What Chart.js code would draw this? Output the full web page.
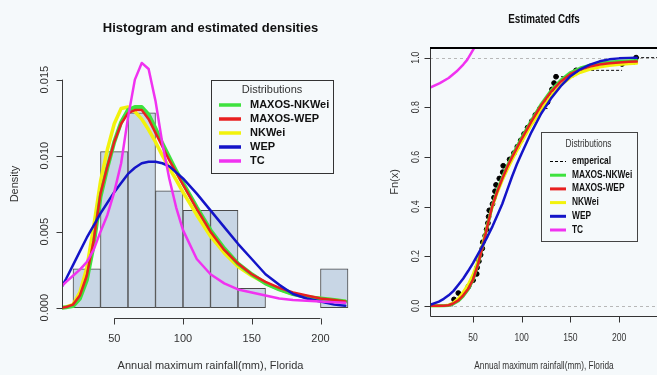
<!DOCTYPE html>
<html><head><meta charset="utf-8">
<script src="https://cdn.jsdelivr.net/npm/chart.js@4/dist/chart.umd.min.js"></script>
<style>
html,body{margin:0;padding:0;background:#f5f9fb;overflow:hidden;width:657px;height:375px;position:relative;}
#c1{position:absolute;left:0;top:0;}
#c2{position:absolute;left:380px;top:0;}
</style></head><body>
<canvas id="c1" width="380" height="375"></canvas>
<canvas id="c2" width="300" height="375"></canvas>
<script>
// ---------- data ----------
const seriesNames = ['MAXOS-NKWei','MAXOS-WEP','NKWei','WEP','TC'];
const seriesColors = ['#3ee23e','#e82020','#f2f20c','#1414c8','#f032f0'];

// histogram (Annual maximum rainfall, density scale)
const binCenters = [30,50,70,90,110,130,150,170,190,210];
const binDensity = [0.00256,0.01026,0.01282,0.00769,0.00641,0.00641,0.00128,0,0,0.00256];

// estimated densities
const densX =            [12,15,20,25,30,35,40,45,50,55,60,65,70,75,80,85,90,95,100,110,120,130,140,150,160,170,180,190,200,210,218];
const densMaxosNKWei =   [0,0.00003,0.0001,0.0006,0.0018,0.0041,0.0073,0.0092,0.0109,0.0122,0.0130,0.0132,0.0132,0.0127,0.0118,0.0108,0.0099,0.0090,0.0082,0.0066,0.0051,0.0039,0.0029,0.0022,0.0016,0.0012,0.0009,0.0007,0.0006,0.0005,0.0004];
const densMaxosWEP =     [0,0.00004,0.0002,0.0008,0.0021,0.0044,0.0075,0.0093,0.0109,0.0121,0.0128,0.0130,0.0130,0.0124,0.0115,0.0106,0.0097,0.0089,0.0081,0.0065,0.0050,0.0038,0.0029,0.0022,0.0017,0.0013,0.0010,0.0008,0.0006,0.0005,0.0004];
const densNKWei =        [0,0.00005,0.0002,0.0010,0.0026,0.0053,0.0083,0.0104,0.0121,0.0131,0.0132,0.0129,0.0124,0.0117,0.0109,0.0100,0.0092,0.0084,0.0076,0.0061,0.0047,0.0036,0.0027,0.0021,0.0016,0.0012,0.0009,0.0007,0.0006,0.0005,0.0004];
const densWEP =          [0.0014,0.0019,0.0028,0.0037,0.0046,0.0054,0.0062,0.0069,0.0076,0.0082,0.0088,0.0092,0.0095,0.0096,0.0096,0.0095,0.0093,0.0089,0.0085,0.0075,0.0064,0.0053,0.0042,0.0032,0.0022,0.0015,0.0009,0.0006,0.0004,0.0002,0.00012];
const densTC =           [0.00143,0.0017,0.0021,0.0025,0.0030,0.0038,0.0050,0.0061,0.0076,0.0095,0.0125,0.0150,0.0161,0.0157,0.0136,0.0108,0.0085,0.0066,0.0051,0.0032,0.0022,0.0016,0.0012,0.0010,0.0008,0.0006,0.0005,0.00045,0.0004,0.00036,0.00033];

// estimated cdfs
const cdfX =            [6,15,20,25,30,35,40,45,50,55,60,65,70,75,80,85,90,95,100,110,120,130,140,150,160,170,180,190,200,210,218];
const cdfMaxosNKWei =   [0,0,0.0003,0.0015,0.008,0.019,0.039,0.065,0.104,0.165,0.240,0.326,0.407,0.466,0.517,0.563,0.603,0.641,0.678,0.748,0.813,0.867,0.909,0.940,0.958,0.969,0.977,0.982,0.985,0.987,0.988];
const cdfMaxosWEP =     [0,0,0.0005,0.002,0.010,0.022,0.042,0.068,0.105,0.165,0.240,0.325,0.405,0.462,0.512,0.558,0.598,0.636,0.673,0.743,0.808,0.862,0.903,0.934,0.952,0.964,0.972,0.977,0.980,0.983,0.984];
const cdfNKWei =        [0,0,0.0006,0.003,0.013,0.030,0.055,0.085,0.125,0.180,0.250,0.328,0.402,0.457,0.505,0.548,0.587,0.625,0.661,0.730,0.790,0.845,0.888,0.920,0.940,0.953,0.962,0.968,0.972,0.975,0.977];
const cdfWEP =          [0.004,0.017,0.028,0.042,0.060,0.085,0.110,0.140,0.172,0.207,0.243,0.280,0.320,0.365,0.410,0.465,0.520,0.570,0.615,0.700,0.775,0.835,0.885,0.925,0.953,0.972,0.985,0.993,0.997,0.999,1.000];
const cdfTCx =          [6,16,25,33,40,44,52,60];
const cdfTC =           [0.879,0.897,0.918,0.944,0.972,0.991,1.044,1.10];

// empirical sample (sorted)
const empirical = [30.5,34.9,45.2,50.0,53.8,54.2,56.0,57.8,59.5,60.0,62.5,64.0,65.3,66.0,66.7,70.0,71.5,72.6,73.6,77.0,80.5,81.0,87.5,92.0,95.5,99.0,102.4,106.0,110.3,114.0,118.8,126.5,129.0,131.0,133.2,135.2,155.8,203.0,217.4];

// ticks
const leftXTicks = [50,100,150,200];
const leftXTickLabels = ['50','100','150','200'];
const leftYTicks = [0,0.005,0.010,0.015];
const leftYTickLabels = ['0.000','0.005','0.010','0.015'];
const rightXTicks = [50,100,150,200];
const rightXTickLabels = ['50','100','150','200'];
const rightYTicks = [0,0.2,0.4,0.6,0.8,1.0];
const rightYTickLabels = ['0.0','0.2','0.4','0.6','0.8','1.0'];

// ---------- helpers ----------
const BG = '#f5f9fb';
const INK = '#262626';
function txt(ctx, s, x, y, o){
  ctx.save();
  ctx.translate(x,y);
  if(o.rot) ctx.rotate(o.rot);
  if(o.sx) ctx.scale(o.sx,1);
  ctx.font = o.font; ctx.fillStyle = o.color||INK;
  ctx.textAlign = o.align||'center'; ctx.textBaseline = 'middle';
  ctx.fillText(s,0,0);
  ctx.restore();
}
function pts(xs, ys){ return xs.map((x,i)=>({x:x, y:ys[i]})); }
function lineDs(label, xs, ys, color, order, w){
  return {type:'line', label, data:pts(xs,ys), borderColor:color, backgroundColor:color,
    borderWidth:w, pointRadius:0, tension:0, fill:false, order:order, borderJoinStyle:'round', borderCapStyle:'round'};
}
const SANS = '"Liberation Sans", Arial, Helvetica, sans-serif';

// ---------- left chart ----------
const leftDeco = {id:'leftDeco', afterDraw(chart){
  const ctx=chart.ctx, xs=chart.scales.x, ys=chart.scales.y, a=chart.chartArea;
  ctx.save();
  ctx.strokeStyle='#3a3a3a'; ctx.lineWidth=1;
  const x0 = Math.round(a.left)+0.5;
  ctx.beginPath();
  ctx.moveTo(x0, ys.getPixelForValue(leftYTicks[0])); ctx.lineTo(x0, ys.getPixelForValue(leftYTicks[leftYTicks.length-1]));
  leftYTicks.forEach(v=>{const p=Math.round(ys.getPixelForValue(v))+0.5; ctx.moveTo(x0,p); ctx.lineTo(x0-6,p);});
  const y0 = Math.round(a.bottom)+0.5;
  ctx.moveTo(xs.getPixelForValue(leftXTicks[0]), y0); ctx.lineTo(xs.getPixelForValue(leftXTicks[leftXTicks.length-1]), y0);
  leftXTicks.forEach(v=>{const p=Math.round(xs.getPixelForValue(v))+0.5; ctx.moveTo(p,y0); ctx.lineTo(p,y0+6);});
  ctx.stroke();
  leftYTicks.forEach((v,i)=>txt(ctx, leftYTickLabels[i], x0-18, ys.getPixelForValue(v), {font:'11px '+SANS, rot:-Math.PI/2, color:'#333'}));
  leftXTicks.forEach((v,i)=>txt(ctx, leftXTickLabels[i], xs.getPixelForValue(v), y0+20, {font:'11px '+SANS, color:'#333'}));
  const cx=(a.left+a.right)/2;
  txt(ctx, 'Histogram and estimated densities', cx, 28, {font:'bold 13px '+SANS, color:'#111'});
  txt(ctx, 'Annual maximum rainfall(mm), Florida', cx, 366, {font:'11px '+SANS, color:'#333'});
  txt(ctx, 'Density', 15, (a.top+a.bottom)/2, {font:'11px '+SANS, rot:-Math.PI/2, color:'#333'});
  // legend
  const L=211, T=80, W=122, H=93;
  ctx.fillStyle=BG; ctx.fillRect(L,T,W,H);
  ctx.strokeStyle='#333'; ctx.lineWidth=1; ctx.strokeRect(L+0.5,T+0.5,W,H);
  txt(ctx,'Distributions', L+61, T+9.5, {font:'11px '+SANS, color:'#333'});
  seriesNames.forEach((n,i)=>{
    const yy = T+25+i*14;
    ctx.strokeStyle=seriesColors[i]; ctx.lineWidth=3.5; ctx.lineCap='butt';
    ctx.beginPath(); ctx.moveTo(L+8,yy); ctx.lineTo(L+30,yy); ctx.stroke();
    txt(ctx, n, L+39, yy, {font:'bold 11px '+SANS, align:'left', color:'#111'});
  });
  ctx.restore();
}};

new Chart(document.getElementById('c1'), {
  type:'bar',
  data:{datasets:[
    {type:'bar', label:'hist', data:pts(binCenters, binDensity), backgroundColor:'#c8d6e5', borderColor:'#4a4a4a', borderWidth:1, borderSkipped:false, barPercentage:1, categoryPercentage:1, order:10},
    lineDs(seriesNames[2], densX, densNKWei, seriesColors[2], 4, 3.5),
    lineDs(seriesNames[0], densX, densMaxosNKWei, seriesColors[0], 3, 4),
    lineDs(seriesNames[1], densX, densMaxosWEP, seriesColors[1], 2, 2.5),
    lineDs(seriesNames[3], densX, densWEP, seriesColors[3], 1, 2.5),
    lineDs(seriesNames[4], densX, densTC, seriesColors[4], 0, 2.5)
  ]},
  options:{
    responsive:false, animation:false, devicePixelRatio:1,
    layout:{padding:{left:62, right:21, top:50, bottom:57}},
    plugins:{legend:{display:false}, tooltip:{enabled:false}},
    scales:{
      x:{type:'linear', min:12, max:228, offset:false, display:false},
      y:{type:'linear', min:-0.00068, max:0.01695, display:false}
    }
  },
  plugins:[leftDeco]
});

// ---------- right chart ----------
const n = empirical.length;
const stepData = [];
stepData.push({x:6, y:0}); stepData.push({x:empirical[0], y:0}); stepData.push({x:empirical[0], y:null});
empirical.forEach((x,i)=>{
  const nx = i<n-1 ? empirical[i+1] : 252;
  stepData.push({x:x, y:(i+1)/n}); stepData.push({x:nx, y:(i+1)/n}); stepData.push({x:nx, y:null});
});
const empPoints = empirical.map((x,i)=>({x:x, y:(i+1)/n}));

const rightDeco = {id:'rightDeco',
  beforeDatasetsDraw(chart){
    const ctx=chart.ctx, ys=chart.scales.y, a=chart.chartArea;
    ctx.save();
    ctx.strokeStyle='#b8b8b8'; ctx.lineWidth=1; ctx.setLineDash([3,3]);
    [0,1].forEach(v=>{const p=Math.round(ys.getPixelForValue(v))+0.5; ctx.beginPath(); ctx.moveTo(a.left,p); ctx.lineTo(a.right,p); ctx.stroke();});
    ctx.restore();
  },
  afterDraw(chart){
    const ctx=chart.ctx, xs=chart.scales.x, ys=chart.scales.y, a=chart.chartArea;
    ctx.save();
    ctx.strokeStyle='#333'; ctx.lineWidth=1;
    const l=Math.round(a.left)+0.5, b=Math.round(a.bottom)+0.5, t=Math.round(a.top);
    ctx.beginPath(); ctx.moveTo(l,t); ctx.lineTo(l,b); ctx.lineTo(a.right,b);
    rightYTicks.forEach(v=>{const p=Math.round(ys.getPixelForValue(v))+0.5; ctx.moveTo(l,p); ctx.lineTo(l-6,p);});
    rightXTicks.forEach(v=>{const p=Math.round(xs.getPixelForValue(v))+0.5; ctx.moveTo(p,b); ctx.lineTo(p,b+6);});
    ctx.stroke();
    ctx.strokeStyle='#000'; ctx.lineWidth=2;
    ctx.beginPath(); ctx.moveTo(l-0.5,t); ctx.lineTo(a.right,t); ctx.stroke();
    rightYTicks.forEach((v,i)=>txt(ctx, rightYTickLabels[i], l-15, ys.getPixelForValue(v), {font:'11px '+SANS, rot:-Math.PI/2, sx:0.8, color:'#333'}));
    rightXTicks.forEach((v,i)=>txt(ctx, rightXTickLabels[i], xs.getPixelForValue(v), b+21, {font:'11px '+SANS, sx:0.78, color:'#333'}));
    txt(ctx, 'Estimated Cdfs', 164, 20, {font:'bold 12px '+SANS, sx:0.82, color:'#111'});
    txt(ctx, 'Annual maximum rainfall(mm), Florida', 164, 366, {font:'11px '+SANS, sx:0.75, color:'#333'});
    txt(ctx, 'Fn(x)', 15, 182, {font:'11px '+SANS, rot:-Math.PI/2, color:'#333'});
    // legend
    const L=161, T=132, W=96, H=109;
    ctx.fillStyle=BG; ctx.fillRect(L,T,W,H);
    ctx.strokeStyle='#444'; ctx.lineWidth=1; ctx.strokeRect(L+0.5,T+0.5,W,H);
    txt(ctx,'Distributions', L+47.5, T+11.5, {font:'11px '+SANS, sx:0.76, color:'#333'});
    const names = ['emperical'].concat(seriesNames);
    const cols = ['#000'].concat(seriesColors);
    names.forEach((nm,i)=>{
      const yy = T+29+i*13.7;
      ctx.strokeStyle=cols[i]; ctx.lineCap='butt';
      if(i===0){ ctx.lineWidth=1; ctx.setLineDash([3,2]); } else { ctx.lineWidth=3; ctx.setLineDash([]); }
      ctx.beginPath(); ctx.moveTo(L+9,yy+0.5); ctx.lineTo(L+25,yy+0.5); ctx.stroke();
      ctx.setLineDash([]);
      txt(ctx, nm, L+31, yy, {font:'bold 11px '+SANS, sx:0.76, align:'left', color:'#111'});
    });
    ctx.restore();
  }
};

new Chart(document.getElementById('c2'), {
  type:'line',
  data:{datasets:[
    {type:'line', label:'emperical-steps', data:stepData, borderColor:'#111', borderWidth:1, borderDash:[3,2], pointRadius:0, spanGaps:false, tension:0, fill:false, order:7},
    {type:'scatter', label:'emperical', data:empPoints, backgroundColor:'#000', borderColor:'#000', pointRadius:2.4, showLine:false, order:6},
    lineDs(seriesNames[2], cdfX, cdfNKWei, seriesColors[2], 4, 3),
    lineDs(seriesNames[0], cdfX, cdfMaxosNKWei, seriesColors[0], 3, 3),
    lineDs(seriesNames[1], cdfX, cdfMaxosWEP, seriesColors[1], 2, 2.5),
    lineDs(seriesNames[3], cdfX, cdfWEP, seriesColors[3], 1, 2.5),
    lineDs(seriesNames[4], cdfTCx, cdfTC, seriesColors[4], 0, 2.5)
  ]},
  options:{
    responsive:false, animation:false, devicePixelRatio:1,
    layout:{padding:{left:50, right:10, top:47.7, bottom:59.3}},
    plugins:{legend:{display:false}, tooltip:{enabled:false}},
    scales:{
      x:{type:'linear', min:5.85, max:252.2, display:false},
      y:{type:'linear', min:-0.04, max:1.04, display:false}
    }
  },
  plugins:[rightDeco]
});
</script>
</body></html>
